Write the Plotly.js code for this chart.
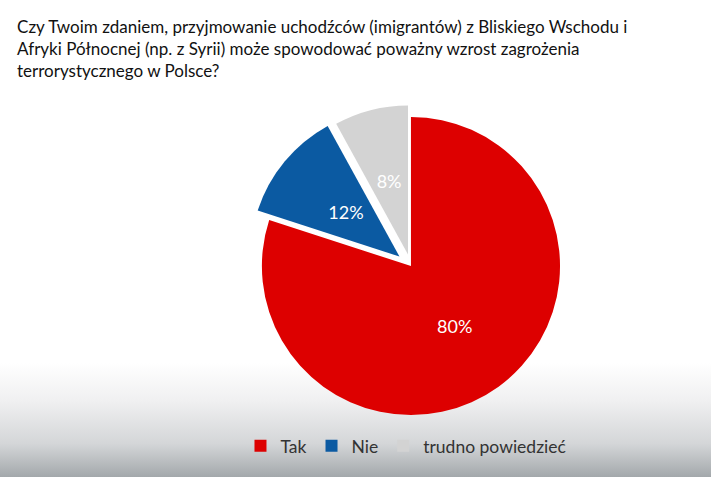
<!DOCTYPE html>
<html>
<head>
<meta charset="utf-8">
<script src="https://cdn.plot.ly/plotly-3.0.1.min.js"></script>
<style>
html,body{margin:0;padding:0;}
body{width:711px;height:477px;overflow:hidden;
background:linear-gradient(to bottom,#ffffff 0%,#ffffff 76%,#f0f0f1 84%,#d4d6d8 93%,#a3a8ab 100%);}
#chart{width:711px;height:477px;}
</style>
</head>
<body>
<div id="chart"></div>
<script>
const titleLines = [
  "Czy Twoim zdaniem, przyjmowanie uchodźców (imigrantów) z Bliskiego Wschodu i",
  "Afryki Północnej (np. z Syrii) może spowodować poważny wzrost zagrożenia",
  "terrorystycznego w Polsce?"
];
const categories = ["Tak", "Nie", "trudno powiedzieć"];
const values = [80, 12, 8];
const colors = ["#dd0000", "#0b5aa2", "#d3d3d3"];
const pulls = [0, 0.1, 0.08];
const labelPulls = [0, 0.158, 0.126];

const fontFam = "Lato, 'Open Sans', sans-serif";

const data = [{
  type: "pie",
  labels: categories,
  values: values,
  sort: false,
  direction: "clockwise",
  rotation: 0,
  pull: pulls,
  marker: {colors: colors, line: {width: 0}},
  texttemplate: ["%{percent}", "", ""],
  textposition: "inside",
  insidetextorientation: "horizontal",
  textfont: {family: fontFam, size: 18, color: "#ffffff"},
  domain: {x: [0.347, 0.809], y: [0.0985, 0.786]},
  hoverinfo: "label+percent"
}, {
  type: "pie",
  labels: categories,
  values: values,
  sort: false,
  direction: "clockwise",
  rotation: 0,
  pull: labelPulls,
  showlegend: false,
  marker: {colors: ["rgba(0,0,0,0)", "rgba(0,0,0,0)", "rgba(0,0,0,0)"], line: {width: 0}},
  texttemplate: ["", "%{percent}", "%{percent}"],
  textposition: "inside",
  insidetextorientation: "horizontal",
  textfont: {family: fontFam, size: 18, color: "#ffffff"},
  domain: {x: [0.4233, 0.7328], y: [0.2117, 0.673]},
  hoverinfo: "skip"
}];

const layout = {
  width: 711,
  height: 477,
  margin: {l: 0, r: 0, t: 0, b: 0},
  paper_bgcolor: "rgba(0,0,0,0)",
  plot_bgcolor: "rgba(0,0,0,0)",
  title: {
    text: titleLines.join("<br>"),
    x: 0.024, xanchor: "left", xref: "container",
    y: 0.931, yanchor: "top", yref: "container",
    font: {family: fontFam, size: 17, color: "#111111"}
  },
  showlegend: true,
  legend: {
    orientation: "h",
    x: 0.571, xanchor: "center",
    y: 0.065, yanchor: "middle",
    itemwidth: 30,
    font: {family: fontFam, size: 17.5, color: "#333333"},
    bgcolor: "rgba(0,0,0,0)",
    itemclick: false
  }
};

Plotly.newPlot("chart", data, layout, {displayModeBar: false, staticPlot: true});
</script>
</body>
</html>
